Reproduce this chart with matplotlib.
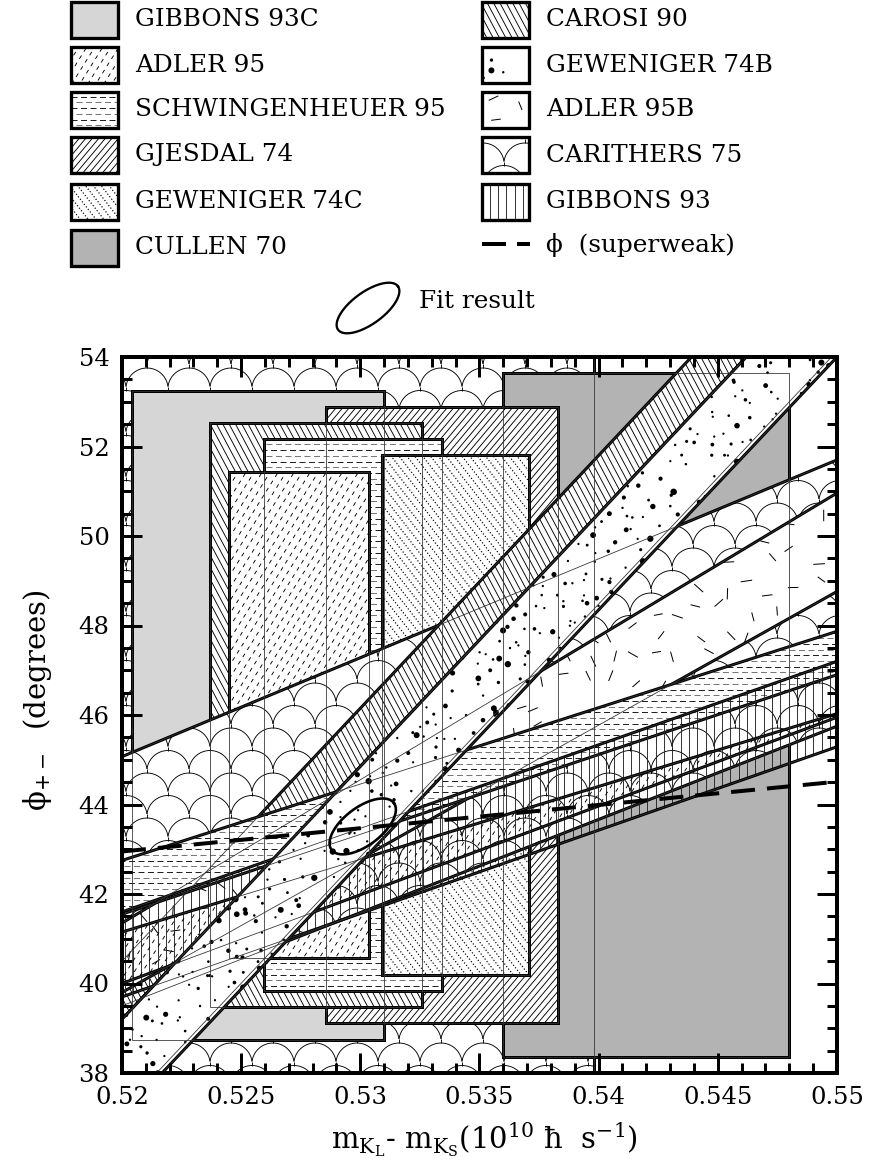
import numpy as np
import matplotlib
matplotlib.use('Agg')
import matplotlib.pyplot as plt
from matplotlib.patches import Polygon
from matplotlib.collections import LineCollection, CircleCollection
from matplotlib.transforms import IdentityTransform, Bbox

plt.rcParams['font.family'] = ['DejaVu Serif']
plt.rcParams['mathtext.fontset'] = 'dejavuserif'
plt.rcParams['lines.scale_dashes'] = False

W, H, DPI = 870, 1174, 100
PT = 72.0 / DPI  # points per pixel

# measurement boxes (delta m range x phi range), drawn back to front
box_names = ['CARITHERS 75', 'CULLEN 70', 'GIBBONS 93C', 'GJESDAL 74',
             'CAROSI 90', 'SCHWINGENHEUER 95', 'ADLER 95', 'GEWENIGER 74C']
box_dm_lo = [0.5190, 0.5360, 0.5204, 0.52855, 0.52369, 0.52597, 0.52449, 0.53090]
box_dm_hi = [0.5398, 0.5480, 0.5310, 0.53830, 0.53260, 0.53344, 0.53035, 0.53709]
box_phi_lo = [37.5, 38.36, 38.74, 39.11, 39.48, 39.84, 40.56, 40.20]
box_phi_hi = [54.5, 53.64, 53.25, 52.89, 52.53, 52.17, 51.43, 51.82]

# correlated bands: phi of upper / lower edge at dm = 0.52 (l) and 0.55 (r), back to front
band_names = ['CARITHERS 75', 'CAROSI 90', 'ADLER 95B', 'SCHWINGENHEUER 95',
              'GIBBONS 93', 'ADLER 95', 'GEWENIGER 74B']
band_up_l = [45.07, 40.50, 41.35, 42.75, 41.60, 41.15, 39.20]
band_up_r = [51.70, 57.45, 50.96, 47.87, 47.20, 46.03, 56.15]
band_lo_l = [39.50, 39.20, 39.80, 41.55, 39.70, 40.00, 37.05]
band_lo_r = [45.75, 56.15, 48.76, 46.90, 45.29, 45.95, 54.00]

# superweak phase and fit result
sw_dm = [0.52, 0.55]
sw_phi = [42.95, 44.51]
fit_dm, fit_phi = 0.5301, 43.51

x_ticks = [0.52, 0.525, 0.53, 0.535, 0.54, 0.545, 0.55]
x_tick_labels = ['0.52', '0.525', '0.53', '0.535', '0.54', '0.545', '0.55']
y_ticks = [38, 40, 42, 44, 46, 48, 50, 52, 54]

style = {
    'GIBBONS 93C': ('#d6d6d6', None),
    'ADLER 95': ('white', 'dashslash'),
    'SCHWINGENHEUER 95': ('white', 'hdash'),
    'GJESDAL 74': ('white', 'fslash'),
    'GEWENIGER 74C': ('white', 'dotdiag'),
    'CULLEN 70': ('#b3b3b3', None),
    'CAROSI 90': ('white', 'bslash'),
    'GEWENIGER 74B': ('white', 'dots'),
    'ADLER 95B': ('white', 'strokes'),
    'CARITHERS 75': ('white', 'scallop'),
    'GIBBONS 93': ('white', 'vlines'),
}
# bands drawn without white background
see_through = ['GIBBONS 93', 'ADLER 95']

fig = plt.figure(figsize=(W / DPI, H / DPI), dpi=DPI)
lax = fig.add_axes([0, 0, 1, 1])
lax.set_xlim(0, W)
lax.set_ylim(H, 0)
lax.axis('off')
ax = fig.add_axes([122 / W, 101 / H, 715 / W, 716 / H])
ax.set_xlim(0.52, 0.55)
ax.set_ylim(38, 54)


def hash01(i, j, k):
    v = np.sin(i * 127.1 + j * 311.7 + k * 74.7) * 43758.5453
    return v - np.floor(v)


def family(bb, angle, spacing):
    a = np.deg2rad(angle)
    d = np.array([np.cos(a), np.sin(a)])
    n = np.array([-np.sin(a), np.cos(a)])
    cx = np.array([bb.x0, bb.x1, bb.x1, bb.x0])
    cy = np.array([bb.y0, bb.y0, bb.y1, bb.y1])
    s = cx * n[0] + cy * n[1]
    t = cx * d[0] + cy * d[1]
    segs = []
    for k in range(int(np.floor(s.min() / spacing)), int(np.ceil(s.max() / spacing)) + 1):
        p = n * k * spacing
        segs.append([p + d * (t.min() - 5), p + d * (t.max() + 5)])
    return segs


def lines(segs, lw, color='k', dashes=None):
    c = LineCollection(segs, linewidths=lw * PT, colors=color, transform=IdentityTransform())
    if dashes:
        c.set_linestyle((0, tuple(v * PT for v in dashes)))
    return c


def scallops(bb, half=21.0, h=18.5, dy=22.5):
    r = (half ** 2 + h ** 2) / (2 * h)
    th0 = np.arcsin(half / r)
    th = np.linspace(-th0, th0, 24)
    segs = []
    for k in range(int(np.floor(bb.y0 / dy)) - 1, int(np.ceil(bb.y1 / dy)) + 2):
        yb = k * dy
        off = (k % 2) * half
        for i in range(int(np.floor((bb.x0 - off) / (2 * half))) - 1,
                       int(np.ceil((bb.x1 - off) / (2 * half))) + 1):
            cx = off + i * 2 * half
            segs.append(np.column_stack([cx + r * np.sin(th), yb + h - r + r * np.cos(th)]))
            segs.append([[cx + half, yb], [cx + half, yb - dy + h]])
    return segs


def texture(axes, patch, kind, z):
    bb = patch.get_window_extent()
    if axes is ax:
        bb = Bbox.intersection(bb, ax.bbox)
        if bb is None:
            return
    bb = Bbox.from_extents(bb.x0 - 3, bb.y0 - 3, bb.x1 + 3, bb.y1 + 3)
    arts = []
    if kind == 'fslash':
        arts.append(lines(family(bb, 50, 5.0), 0.9))
    elif kind == 'bslash':
        arts.append(lines(family(bb, 118, 5.6), 0.9))
    elif kind == 'dotdiag':
        arts.append(lines(family(bb, 128, 6.2), 1.2, dashes=(1.2, 2.0)))
    elif kind == 'dashslash':
        arts.append(lines(family(bb, 58, 6.8), 0.9, dashes=(4.0, 4.5)))
    elif kind == 'vlines':
        arts.append(lines(family(bb, 90, 8.3), 0.9, color='#222222'))
    elif kind == 'hdash':
        sp, per = 5.7, 9.5
        rows = [[], []]
        for k in range(int(np.floor(bb.y0 / sp)), int(np.ceil(bb.y1 / sp)) + 1):
            x0 = np.floor(bb.x0 / per) * per - (k % 2) * per / 2 - per
            rows[k % 2].append([(x0, k * sp), (bb.x1 + per, k * sp)])
        arts.append(lines(rows[0], 1.0, color='#777777', dashes=(6.0, 3.5)))
        arts.append(lines(rows[1], 1.0, color='#222222', dashes=(6.0, 3.5)))
    elif kind == 'scallop':
        arts.append(lines(scallops(bb), 0.9))
    elif kind == 'dots':
        st = 11.0
        pts, sizes = [], []
        for i in range(int(bb.x0 // st) - 1, int(bb.x1 // st) + 2):
            for j in range(int(bb.y0 // st) - 1, int(bb.y1 // st) + 2):
                if hash01(i, j, 1) < 0.55:
                    pts.append(((i + hash01(i, j, 2)) * st, (j + hash01(i, j, 3)) * st))
                    sizes.append(((2.0 + 3.8 * hash01(i, j, 4) ** 3) * PT) ** 2)
        if pts:
            arts.append(CircleCollection(sizes, offsets=pts, offset_transform=IdentityTransform(),
                                         facecolors='k', edgecolors='none'))
    elif kind == 'strokes':
        st = 23.0
        segs = []
        for i in range(int(bb.x0 // st) - 1, int(bb.x1 // st) + 2):
            for j in range(int(bb.y0 // st) - 1, int(bb.y1 // st) + 2):
                if hash01(i, j, 5) < 0.85:
                    cx = (i + 0.15 + 0.7 * hash01(i, j, 6)) * st
                    cy = (j + 0.15 + 0.7 * hash01(i, j, 7)) * st
                    a = np.pi * hash01(i, j, 8)
                    L = 4.5 + 1.5 * hash01(i, j, 9)
                    segs.append([(cx - L * np.cos(a), cy - L * np.sin(a)),
                                 (cx + L * np.cos(a), cy + L * np.sin(a))])
        arts.append(lines(segs, 1.0))
    for a in arts:
        a.set_clip_path(patch)
        a.set_clip_box(axes.bbox)
        a.set_zorder(z)
        axes.add_collection(a, autolim=False)


outlines = []
z = 2.0


def draw_region(verts, name, edge_lw=3.0, clear=True):
    global z
    face, kind = style[name]
    fill = Polygon(verts, closed=True, facecolor=face if clear else 'none',
                   edgecolor='none', zorder=z)
    ax.add_patch(fill)
    if kind:
        texture(ax, fill, kind, z + 0.02)
    ax.add_patch(Polygon(verts, closed=True, facecolor='none', edgecolor='k',
                         linewidth=edge_lw * PT, joinstyle='miter', zorder=z + 0.05))
    outlines.append(verts)
    z += 0.1


for i, name in enumerate(box_names):
    x0, x1, y0, y1 = box_dm_lo[i], box_dm_hi[i], box_phi_lo[i], box_phi_hi[i]
    draw_region([(x0, y0), (x1, y0), (x1, y1), (x0, y1)], name)

for i, name in enumerate(band_names):
    verts = [(0.52, band_lo_l[i]), (0.55, band_lo_r[i]), (0.55, band_up_r[i]), (0.52, band_up_l[i])]
    draw_region(verts, name, clear=name not in see_through)

# thin outlines of every region on top
for verts in outlines:
    ax.add_patch(Polygon(verts, closed=True, facecolor='none', edgecolor='#333333',
                         linewidth=0.8 * PT, zorder=30))
ax.plot([0.52, 0.55], [band_lo_l[-1] + 0.13, band_lo_r[-1] + 0.13], color='#333333',
        linewidth=0.8 * PT, zorder=30)

# superweak phase
ax.plot(sw_dm, sw_phi, color='k', linewidth=4.0 * PT, dashes=(24 * PT, 12 * PT), zorder=32)

# fit ellipse (shape given in pixels of the plot)
sx, sy = 715 / 0.03, 716 / 16.0
t = np.linspace(0, 2 * np.pi, 200)
a_px, b_px, ang = 39.0, 19.0, np.deg2rad(37)
u, v = a_px * np.cos(t), b_px * np.sin(t)
ax.plot(fit_dm + (u * np.cos(ang) - v * np.sin(ang)) / sx,
        fit_phi + (u * np.sin(ang) + v * np.cos(ang)) / sy,
        color='k', linewidth=2.6 * PT, zorder=33)

# axes styling
ax.set_xticks(x_ticks)
ax.set_xticklabels(x_tick_labels)
ax.set_xticks(np.arange(0.52, 0.5501, 0.001), minor=True)
ax.set_yticks(y_ticks)
ax.set_yticks(np.arange(38, 54.01, 0.5), minor=True)
ax.tick_params(which='both', direction='in', top=True, right=True, width=3 * PT,
               labelsize=17.5, pad=9)
ax.tick_params(which='major', length=20 * PT)
ax.tick_params(which='minor', length=10 * PT)
for sp in ax.spines.values():
    sp.set_linewidth(4 * PT)
    sp.set_zorder(60)
ax.xaxis.set_zorder(59)
ax.yaxis.set_zorder(59)

lax.text(484, 1140, r'm$_{\mathregular{K_L}}$- m$_{\mathregular{K_S}}$(10$^{\mathregular{10}}$ ħ  s$^{\mathregular{-1}}$)',
         ha='center', va='center', fontsize=21)
lax.text(38, 700, r'ϕ$_{+-}$  (degrees)', rotation=90, ha='center', va='center', fontsize=21)

# legend
left_items = ['GIBBONS 93C', 'ADLER 95', 'SCHWINGENHEUER 95', 'GJESDAL 74', 'GEWENIGER 74C', 'CULLEN 70']
right_items = ['CAROSI 90', 'GEWENIGER 74B', 'ADLER 95B', 'CARITHERS 75', 'GIBBONS 93']
row_y = [20, 65, 110, 155, 202, 248]


def swatch(x, yc, name):
    face, kind = style[name]
    verts = [(x, yc - 18), (x + 47, yc - 18), (x + 47, yc + 18), (x, yc + 18)]
    p = Polygon(verts, closed=True, facecolor=face, edgecolor='none', zorder=2)
    lax.add_patch(p)
    if kind:
        texture(lax, p, kind, 2.1)
    lax.add_patch(Polygon(verts, closed=True, facecolor='none', edgecolor='k',
                          linewidth=3.3 * PT, zorder=2.5))
    lax.text(x + 64, yc, name, ha='left', va='center', fontsize=17.8)


for name, yc in zip(left_items, row_y):
    swatch(71, yc, name)
for name, yc in zip(right_items, row_y):
    swatch(482, yc, name)
lax.plot([482, 530], [244, 244], color='k', linewidth=4 * PT, dashes=(24 * PT, 11 * PT))
lax.text(546, 245, 'ϕ  (superweak)', ha='left', va='center', fontsize=17.8)

t = np.linspace(0, 2 * np.pi, 200)
u, v = 37.0 * np.cos(t), 16.0 * np.sin(t)
ang = np.deg2rad(36)
lax.plot(368 + u * np.cos(ang) - v * np.sin(ang), 308 - (u * np.sin(ang) + v * np.cos(ang)),
         color='k', linewidth=2.3 * PT)
lax.text(419, 302, 'Fit result', ha='left', va='center', fontsize=17.8)

fig.savefig('out.png', dpi=DPI)
